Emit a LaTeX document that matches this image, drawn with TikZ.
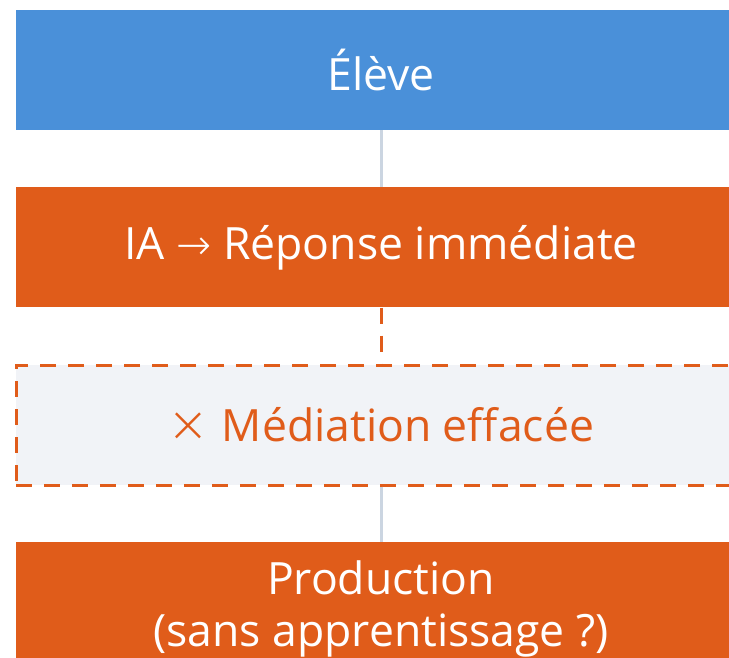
\documentclass[tikz,border=0pt]{standalone}
\usepackage{fontspec}
\setmainfont{Open Sans}
\newfontfamily\symfont{DejaVu Sans ExtraLight}
\usepackage{tikz}
\usetikzlibrary{positioning}
\definecolor{eleveblue}{HTML}{4A90D9}
\definecolor{iaorange}{HTML}{E05C1A}
\definecolor{linkgray}{HTML}{CBD5E1}
\definecolor{palefill}{HTML}{F1F3F7}
\tikzset{
        box/.style={minimum width=730pt, minimum height=120pt, align=center,
                    inner sep=0pt, font=\fontsize{44.5}{52}\selectfont},
        solidbox/.style={box, fill=#1, text=white},
        ghostbox/.style={box, fill=palefill, draw=iaorange, line width=3pt,
                         dash pattern=on 16pt off 12pt, text=iaorange},
        link/.style={draw=linkgray, line width=3pt},
        brokenlink/.style={draw=iaorange, line width=3pt,
                           dash pattern=on 16pt off 12pt},
}
\begin{document}
\begin{tikzpicture}[x=1pt, y=-1pt]
    \useasboundingbox (0,0) rectangle (729,657);
    \clip (0,0) rectangle (729,657);

    \node[solidbox=eleveblue] (eleve) at (381,70) {Élève};
    \node[solidbox=iaorange, below=57pt of eleve] (ia)
        {IA {\symfont\fontsize{42}{52}\selectfont →} Réponse immédiate};
    \node[ghostbox, below=56pt of ia] (med)
        {{\symfont\fontsize{50}{52}\selectfont ×}\hspace{12pt}Médiation effacée};
    \node[solidbox=iaorange, below=55pt of med, minimum height=134pt] (prod)
        {Production\\(sans apprentissage ?)};

    \draw[link] (eleve.south) -- (ia.north);
    \draw[brokenlink] (ia.south) -- (med.north);
    \draw[link] (med.south) -- (prod.north);
\end{tikzpicture}
\end{document}
